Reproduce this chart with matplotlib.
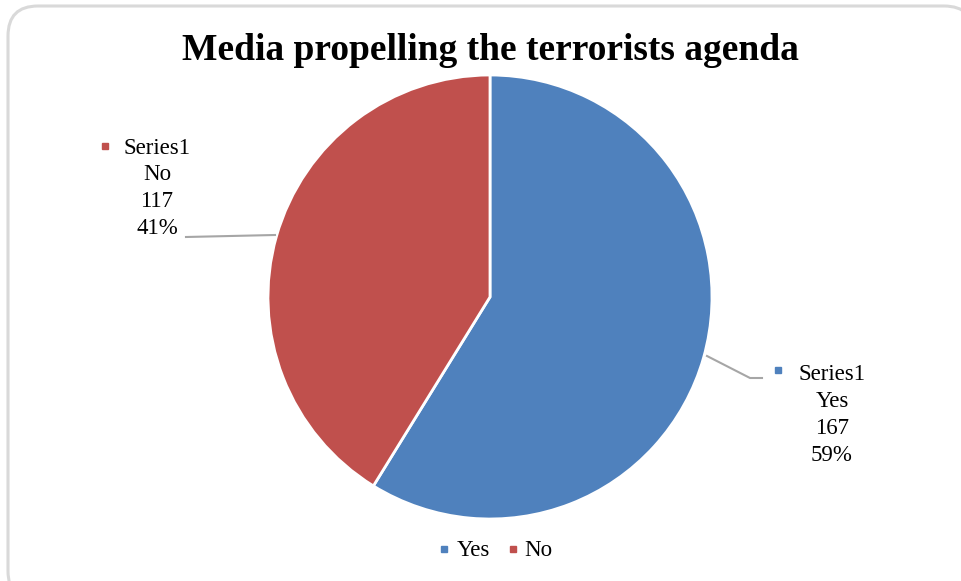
import matplotlib.pyplot as plt
from matplotlib.patches import FancyBboxPatch

categories = ["Yes", "No"]
values = [167, 117]
series_name = "Series1"
colors = ["#4F81BD", "#C0504D"]
title = "Media propelling the terrorists agenda"

plt.rcParams['font.family'] = ['Liberation Serif', 'DejaVu Serif']

W, H = 961, 581
fig = plt.figure(figsize=(W / 100, H / 100), dpi=100)
ax = fig.add_axes([0, 0, 1, 1])

# rounded chart border
ax.add_patch(FancyBboxPatch((8, -20), 966, H - 6 + 20, boxstyle="round,pad=0,rounding_size=30",
                            fc='white', ec='#d9d9d9', lw=2.2, zorder=0))

cx, cy, r = 490, H - 297, 222
ax.pie(values, colors=colors, startangle=90, counterclock=False, center=(cx, cy), radius=r,
       wedgeprops=dict(edgecolor='white', linewidth=2), frame=True)
ax.set_xlim(0, W)
ax.set_ylim(0, H)
ax.set_aspect('equal')
ax.axis('off')

ax.text(490, H - 51, title, ha='center', va='center', fontsize=27, fontweight='bold')

total = sum(values)
pcts = [round(v * 100 / total) for v in values]

# data labels with leader lines
label_pos = [(832, H - 375), (157, H - 148)]
marker_pos = [(778, H - 370), (105, H - 146)]
leaders = [[(707, H - 356), (750, H - 378), (762, H - 378)],
           [(275, H - 235), (186, H - 237)]]
for i, cat in enumerate(categories):
    lx, ly = label_pos[i]
    lines = [series_name, cat, str(values[i]), f"{pcts[i]}%"]
    for j, line in enumerate(lines):
        ax.text(lx, ly - j * 26.8, line, ha='center', va='center', fontsize=16.5)
    ax.plot(*marker_pos[i], 's', color=colors[i], ms=5)
    xs, ys = zip(*leaders[i])
    ax.plot(xs, ys, color='#a6a6a6', lw=1.5)

# legend
leg_x = [(444, 473), (513, 538)]
for i, cat in enumerate(categories):
    mx, tx = leg_x[i]
    ax.plot(mx, H - 549, 's', color=colors[i], ms=5)
    ax.text(tx, H - 550, cat, ha='center', va='center', fontsize=16.5)

fig.savefig("out.png", dpi=100)
